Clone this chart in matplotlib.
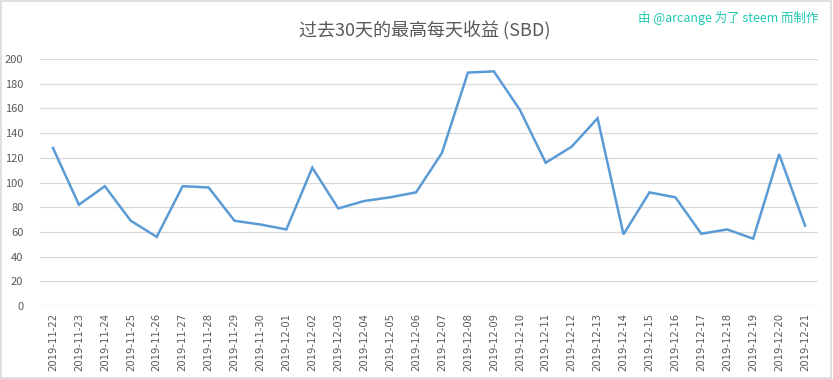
import matplotlib.pyplot as plt
from matplotlib.patches import Rectangle

plt.rcParams['font.family'] = ['Noto Sans CJK SC', 'DejaVu Sans']

dates = ['2019-11-22', '2019-11-23', '2019-11-24', '2019-11-25', '2019-11-26',
         '2019-11-27', '2019-11-28', '2019-11-29', '2019-11-30', '2019-12-01',
         '2019-12-02', '2019-12-03', '2019-12-04', '2019-12-05', '2019-12-06',
         '2019-12-07', '2019-12-08', '2019-12-09', '2019-12-10', '2019-12-11',
         '2019-12-12', '2019-12-13', '2019-12-14', '2019-12-15', '2019-12-16',
         '2019-12-17', '2019-12-18', '2019-12-19', '2019-12-20', '2019-12-21']
earnings = [128, 82, 97, 69, 56, 97, 96, 69, 66, 62,
            112, 79, 85, 88, 92, 124, 189, 190, 159, 116,
            129, 152, 58, 92, 88, 58.5, 62, 54.5, 123, 65]
y_ticks = [0, 20, 40, 60, 80, 100, 120, 140, 160, 180, 200]

fig = plt.figure(figsize=(8.33, 3.79), dpi=100)
ax = fig.add_axes([40 / 833, 73 / 379, 778 / 833, 247 / 379])

x = list(range(len(dates)))
ax.plot(x, earnings, color='#5b9bd5', linewidth=1.8, solid_joinstyle='miter')

ax.set_xlim(-0.5, len(dates) - 0.5)
ax.set_ylim(0, 200)
ax.set_yticks(y_ticks)
ax.set_xticks(x)
ax.set_xticklabels(dates, rotation=90, fontsize=7.2, color='#595959',
                   family=['DejaVu Sans'])
ax.tick_params(axis='y', labelsize=8, labelcolor='#595959', length=0, pad=12)
ax.tick_params(axis='x', length=0, pad=5)
ax.grid(axis='y', color='#d9d9d9', linewidth=0.9)
ax.set_axisbelow(True)
for s in ax.spines.values():
    s.set_visible(False)
ax.axhline(0, color='#d9d9d9', linewidth=0.9)

fig.text(425 / 833, 1 - 31 / 379, '过去30天的最高每天收益 (SBD)', ha='center', va='center',
         fontsize=13, color='#595959')
fig.text(818 / 833, 1 - 18 / 379, '由 @arcange 为了 steem 而制作', ha='right', va='center',
         fontsize=9, color='#1ec9b0')

fig.patches.append(Rectangle((0.001, 0.002), 0.997, 0.995, transform=fig.transFigure,
                             fill=False, edgecolor='#d9d9d9', linewidth=1.2))

fig.savefig('out.png', dpi=100)
